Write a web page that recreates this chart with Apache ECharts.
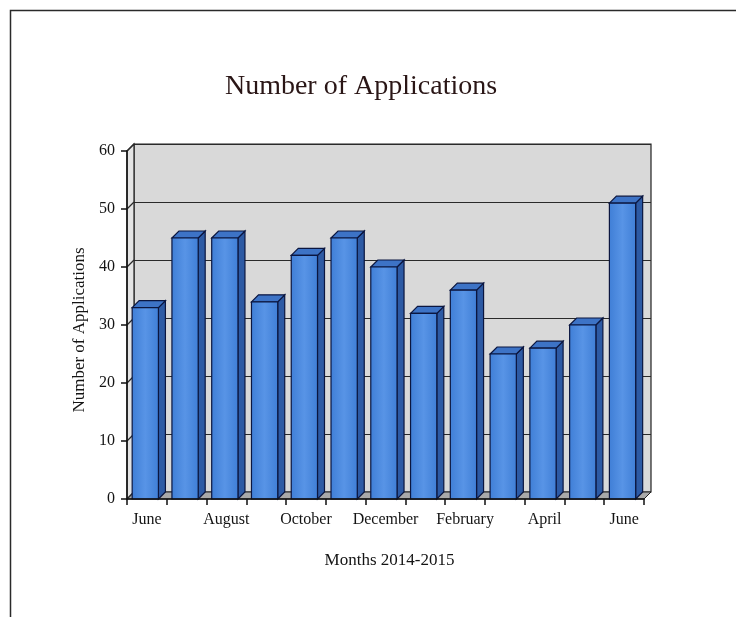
<!DOCTYPE html>
<html>
<head>
<meta charset="utf-8">
<script src="https://cdn.jsdelivr.net/npm/echarts@6/dist/echarts.min.js"></script>
<style>
  html, body { margin: 0; padding: 0; background: #fff; }
  #chart { width: 736px; height: 617px; }
</style>
</head>
<body>
<div id="chart"></div>
<script>
// months, June 2014 to June 2015
var months = ['June', 'July', 'August', 'September', 'October', 'November', 'December',
              'January', 'February', 'March', 'April', 'May', 'June'];
var applications = [33, 45, 45, 34, 42, 45, 40, 32, 36, 25, 26, 30, 51];
var yTicks = [0, 10, 20, 30, 40, 50, 60];

var DEPTH = 7;
var FONT = '"Liberation Serif", "DejaVu Serif", serif';
var INK = '#141414';

var chart = echarts.init(document.getElementById('chart'));

// 3d column: front face, top and side
function renderBar(params, api) {
  var idx = api.value(0);
  var top = api.coord([idx, api.value(1)]);
  var base = api.coord([idx, 0]);
  var bandW = api.size([1, 0])[0];
  var fw = bandW * 0.66;
  var x0 = top[0] - bandW * 0.37;
  var d = DEPTH;
  var stroke = '#0b1640';
  return {
    type: 'group',
    children: [
      {
        type: 'polygon',
        shape: { points: [[x0 + fw, top[1]], [x0 + fw + d, top[1] - d], [x0 + fw + d, base[1] - d], [x0 + fw, base[1]]] },
        style: { fill: '#2d5aa4', stroke: stroke, lineWidth: 1.2 }
      },
      {
        type: 'polygon',
        shape: { points: [[x0, top[1]], [x0 + d, top[1] - d], [x0 + fw + d, top[1] - d], [x0 + fw, top[1]]] },
        style: { fill: '#3d73c6', stroke: stroke, lineWidth: 1.2 }
      },
      {
        type: 'rect',
        shape: { x: x0, y: top[1], width: fw, height: base[1] - top[1] },
        style: {
          fill: new echarts.graphic.LinearGradient(0, 0, 1, 0, [
            { offset: 0, color: '#3f7ed6' },
            { offset: 0.5, color: '#5894e6' },
            { offset: 1, color: '#3f7ed6' }
          ]),
          stroke: stroke, lineWidth: 1.2
        }
      }
    ]
  };
}

// floor and left wall of the box, with the gridlines running across the wall
function renderFrame(params, api) {
  var cs = params.coordSys;
  var d = DEPTH;
  var x = cs.x, y = cs.y, w = cs.width, h = cs.height;
  var children = [
    {
      type: 'polygon',
      shape: { points: [[x, y], [x + d, y - d], [x + d, y + h - d], [x, y + h]] },
      style: { fill: '#e4e4e4', stroke: '#222', lineWidth: 1.2 }
    },
    {
      type: 'polygon',
      shape: { points: [[x, y + h], [x + d, y + h - d], [x + w + d, y + h - d], [x + w, y + h]] },
      style: { fill: '#a9a9a9', stroke: '#222', lineWidth: 1 }
    }
  ];
  yTicks.forEach(function (t) {
    var p = api.coord([0, t]);
    children.push({
      type: 'line',
      shape: { x1: x, y1: p[1], x2: x + d, y2: p[1] - d },
      style: { stroke: '#2a2a2a', lineWidth: 1.2 }
    });
  });
  return { type: 'group', children: children };
}

var option = {
  animation: false,
  backgroundColor: '#ffffff',
  title: {
    text: 'Number of Applications',
    left: 356,
    top: 68,
    textAlign: 'center',
    textStyle: { fontFamily: FONT, fontSize: 28, fontWeight: 'normal', color: '#2a1616' }
  },
  graphic: [{
    type: 'rect',
    left: 8, top: 8,
    shape: { width: 780, height: 660 },
    style: { fill: 'none', stroke: '#2a2a2a', lineWidth: 1.5 },
    z: 100
  }],
  grid: [
    { left: 127, right: 92, top: 151, bottom: 118 },
    // back wall, pushed back by the depth
    { left: 127 + DEPTH, right: 92 - DEPTH, top: 151 - DEPTH, bottom: 118 + DEPTH,
      show: true, backgroundColor: '#d9d9d9', borderColor: '#222', borderWidth: 1.2, z: 0 }
  ],
  xAxis: [
    {
      gridIndex: 0,
      type: 'category',
      data: months,
      name: 'Months 2014-2015',
      nameLocation: 'middle',
      nameGap: 53,
      nameTextStyle: { fontFamily: FONT, fontSize: 17, color: INK, padding: [0, 0, 0, 8] },
      axisLine: { show: true, lineStyle: { color: '#111', width: 1.5 } },
      axisTick: { show: true, interval: 0, length: 6, lineStyle: { color: '#111', width: 1.5 } },
      axisLabel: { interval: 1, margin: 13, fontFamily: FONT, fontSize: 16, color: INK },
      splitLine: { show: false },
      z: 10
    },
    {
      gridIndex: 1,
      type: 'category',
      data: months,
      show: false
    }
  ],
  yAxis: [
    {
      gridIndex: 0,
      type: 'value',
      min: yTicks[0],
      max: yTicks[yTicks.length - 1],
      interval: 10,
      name: 'Number of Applications',
      nameLocation: 'middle',
      nameGap: 36,
      nameTextStyle: { fontFamily: FONT, fontSize: 17, color: INK, padding: [0, 0, 0, -10] },
      axisLine: { show: true, lineStyle: { color: '#111', width: 1.5 } },
      axisTick: { show: true, length: 6, lineStyle: { color: '#111', width: 1.5 } },
      axisLabel: { margin: 12, fontFamily: FONT, fontSize: 16, color: INK },
      splitLine: { show: false },
      z: 10
    },
    {
      gridIndex: 1,
      type: 'value',
      min: yTicks[0],
      max: yTicks[yTicks.length - 1],
      interval: 10,
      axisLine: { show: false },
      axisTick: { show: false },
      axisLabel: { show: false },
      splitLine: { show: true, lineStyle: { color: '#2a2a2a', width: 1.2 } }
    }
  ],
  series: [
    {
      type: 'custom',
      xAxisIndex: 0,
      yAxisIndex: 0,
      renderItem: renderFrame,
      data: [[0, 0]],
      silent: true,
      z: 1
    },
    {
      type: 'custom',
      xAxisIndex: 0,
      yAxisIndex: 0,
      renderItem: renderBar,
      encode: { x: 0, y: 1 },
      data: applications.map(function (v, i) { return [i, v]; }),
      z: 5
    }
  ]
};

chart.setOption(option);
</script>
</body>
</html>
